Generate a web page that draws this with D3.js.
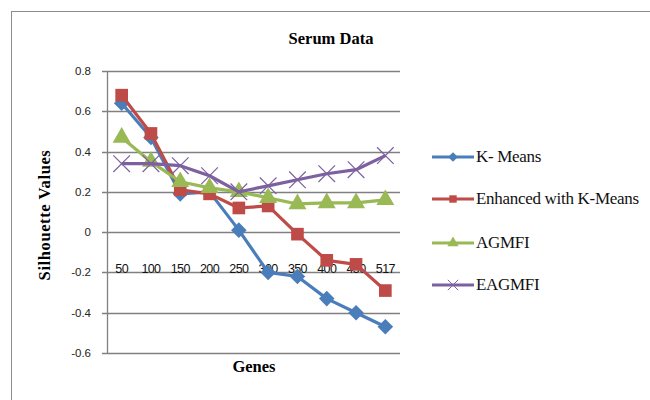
<!DOCTYPE html>
<html>
<head>
<meta charset="utf-8">
<script src="https://cdn.jsdelivr.net/npm/d3@7/dist/d3.min.js"></script>
<style>
  body { margin: 0; background: #fff; }
</style>
</head>
<body>
<div id="chart"></div>
<script>
//Define data
const genes = ["50", "100", "150", "200", "250", "300", "350", "400", "450", "517"];
const kMeans = [0.64, 0.47, 0.19, 0.20, 0.01, -0.20, -0.22, -0.33, -0.40, -0.47];
const enhanced = [0.68, 0.49, 0.21, 0.19, 0.12, 0.13, -0.01, -0.14, -0.16, -0.29];
const agmfi = [0.47, 0.35, 0.25, 0.22, 0.20, 0.17, 0.14, 0.145, 0.145, 0.16];
const eagmfi = [0.34, 0.34, 0.33, 0.28, 0.20, 0.23, 0.26, 0.29, 0.31, 0.38];
const yTicks = [0.8, 0.6, 0.4, 0.2, 0, -0.2, -0.4, -0.6];

const series = [
    { name: "K- Means", values: kMeans, color: "#4A7EBB", marker: "diamond" },
    { name: "Enhanced with K-Means", values: enhanced, color: "#BE4B48", marker: "square" },
    { name: "AGMFI", values: agmfi, color: "#98B954", marker: "triangle" },
    { name: "EAGMFI", values: eagmfi, color: "#7D60A0", marker: "cross" }
];

const width = 650, height = 400;
const plot = { left: 107, right: 400, top: 71, bottom: 353 };
const serif = "'Liberation Serif', 'Times New Roman', serif";
const sans = "'Liberation Sans', Arial, sans-serif";

const svg = d3.select("#chart").append("svg")
    .attr("width", width)
    .attr("height", height);

//outer chart border
svg.append("rect")
    .attr("x", 11.5).attr("y", 11.5)
    .attr("width", 660).attr("height", 420)
    .attr("fill", "#fff")
    .attr("stroke", "#8c8c8c");

const x = d3.scaleBand().domain(genes).range([plot.left, plot.right]);
const y = d3.scaleLinear().domain([-0.6, 0.8]).range([plot.bottom, plot.top]);

//gridlines
svg.append("g")
    .selectAll("line")
    .data(yTicks)
    .enter().append("line")
    .attr("x1", plot.left - 5)
    .attr("x2", plot.right)
    .attr("y1", d => Math.round(y(d)) + 0.5)
    .attr("y2", d => Math.round(y(d)) + 0.5)
    .attr("stroke", "#808080")
    .attr("stroke-width", 1.3);

//y axis line
svg.append("line")
    .attr("x1", plot.left + 0.5).attr("x2", plot.left + 0.5)
    .attr("y1", plot.top).attr("y2", plot.bottom)
    .attr("stroke", "#808080")
    .attr("stroke-width", 1.3);

//y tick labels
svg.append("g")
    .selectAll("text")
    .data(yTicks)
    .enter().append("text")
    .attr("x", plot.left - 16)
    .attr("y", d => y(d) + 4)
    .attr("text-anchor", "end")
    .style("font-family", sans)
    .style("font-size", "11.5px")
    .attr("fill", "#222")
    .text(d => d);

//category labels (sit near -0.2 gridline like the original)
svg.append("g")
    .selectAll("text")
    .data(genes)
    .enter().append("text")
    .attr("x", d => x(d) + x.bandwidth() / 2)
    .attr("y", y(-0.2) + 1)
    .attr("text-anchor", "middle")
    .style("font-family", sans)
    .style("font-size", "12.5px")
    .style("letter-spacing", "-0.6px")
    .attr("fill", "#111")
    .text(d => d);

//titles
svg.append("text")
    .attr("x", 331).attr("y", 44)
    .attr("text-anchor", "middle")
    .style("font-family", serif)
    .style("font-size", "16.5px")
    .style("font-weight", "bold")
    .text("Serum Data");

svg.append("text")
    .attr("x", 254).attr("y", 372)
    .attr("text-anchor", "middle")
    .style("font-family", serif)
    .style("font-size", "16.5px")
    .style("font-weight", "bold")
    .text("Genes");

svg.append("text")
    .attr("transform", "translate(50,215) rotate(-90)")
    .attr("text-anchor", "middle")
    .style("font-family", serif)
    .style("font-size", "16.5px")
    .style("font-weight", "bold")
    .style("letter-spacing", "0.6px")
    .text("Silhouette Values");

//marker shapes
function markerPath(type, size) {
    if (type == "diamond") return d3.symbol().type(d3.symbolDiamond2).size(size * 1.1)();
    if (type == "square") return d3.symbol().type(d3.symbolSquare).size(size)();
    if (type == "triangle") return d3.symbol().type(d3.symbolTriangle).size(size)();
    return d3.symbol().type(d3.symbolTimes).size(size * 1.3)();
}

const line = d3.line()
    .x((d, i) => x(genes[i]) + x.bandwidth() / 2)
    .y(d => y(d));

series.forEach(s => {
    const g = svg.append("g");
    g.append("path")
        .datum(s.values)
        .attr("fill", "none")
        .attr("stroke", s.color)
        .attr("stroke-width", 3.2)
        .attr("stroke-linejoin", "round")
        .attr("d", line);

    g.selectAll("path.mark")
        .data(s.values)
        .enter().append("path")
        .attr("class", "mark")
        .attr("transform", (d, i) => `translate(${x(genes[i]) + x.bandwidth() / 2},${y(d)})`)
        .attr("d", markerPath(s.marker, s.marker == "square" ? 160 : 140))
        .attr("fill", s.marker == "cross" ? "none" : s.color)
        .attr("stroke", s.color)
        .attr("stroke-width", s.marker == "cross" ? 1.2 : 0);
});

//legend
const legend = svg.append("g")
    .selectAll("g")
    .data(series)
    .enter().append("g")
    .attr("transform", (d, i) => `translate(432,${[157, 199, 243, 285][i]})`);

legend.append("line")
    .attr("x1", 0).attr("x2", 42)
    .attr("stroke", d => d.color)
    .attr("stroke-width", 3.2);

legend.append("path")
    .attr("transform", "translate(21,0)")
    .attr("d", d => markerPath(d.marker, 55))
    .attr("fill", d => d.marker == "cross" ? "none" : d.color)
    .attr("stroke", d => d.color)
    .attr("stroke-width", d => d.marker == "cross" ? 1 : 0);

legend.append("text")
    .attr("x", 44).attr("y", 5)
    .style("font-family", serif)
    .style("font-size", "17px")
    .style("letter-spacing", "-0.3px")
    .attr("fill", "#111")
    .text(d => d.name);
</script>
</body>
</html>
